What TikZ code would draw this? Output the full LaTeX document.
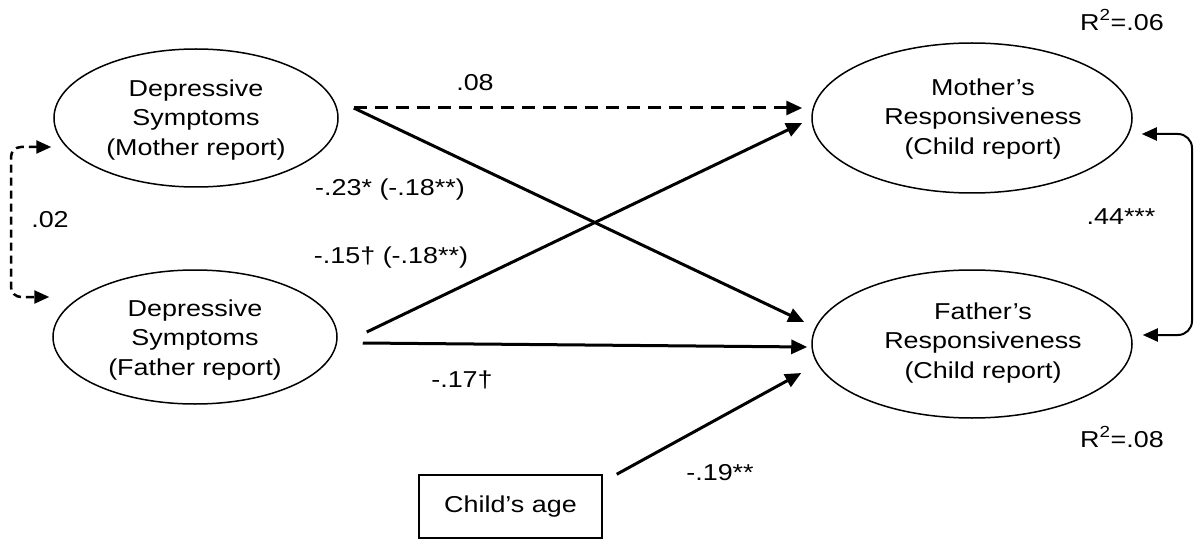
\documentclass[tikz,border=0pt]{standalone}
\usepackage{fontspec}
\setmainfont[FakeStretch=1.17]{Liberation Sans}
\usetikzlibrary{arrows.meta,shapes.geometric}
\begin{document}
\begin{tikzpicture}[x=1pt,y=-1pt,
  font=\fontsize{23}{29.5}\selectfont,
  latent/.style={draw, ellipse, line width=1.5pt, inner sep=0pt},
  observed/.style={draw, rectangle, line width=1.5pt, inner sep=0pt},
  txt/.style={align=center, inner sep=0pt},
  lbl/.style={inner sep=0pt},
  bigtip/.style={-{Triangle[length=16pt,width=14pt]}},
  arr/.style={line width=3pt, bigtip},
  darr/.style={line width=3pt, bigtip, dash pattern=on 13pt off 8pt},
  covleft/.style={line width=2.5pt, dash pattern=on 8pt off 5pt,
    {Triangle[length=15pt,width=13pt]}-{Triangle[length=15pt,width=13pt]}, rounded corners=10pt},
  covright/.style={line width=2pt,
    {Triangle[length=15pt,width=13pt]}-{Triangle[length=15pt,width=13pt]}, rounded corners=14pt}
]
\useasboundingbox (0,0) rectangle (1194,540);

% latent variables
\node[latent, minimum width=284, minimum height=138] (mds) at (196,118) {};
\node[txt] (mdst) at (196,120) {Depressive\\Symptoms\\(Mother report)};
\node[latent, minimum width=284, minimum height=134] (fds) at (195,337) {};
\node[txt] (fdst) at (195,340) {Depressive\\Symptoms\\(Father report)};
\node[latent, minimum width=320, minimum height=150] (mr) at (972,118) {};
\node[txt] (mrt) at (983,119) {Mother’s\\Responsiveness\\(Child report)};
\node[latent, minimum width=320, minimum height=148] (fr) at (972,344) {};
\node[txt] (frt) at (983,343) {Father’s\\Responsiveness\\(Child report)};

% observed covariate
\node[observed, minimum width=183, minimum height=63] (age) at (510.5,506.5) {Child’s age};

% paths
\draw[darr] ([shift={(15,-10)}]mds.east) -- ([shift={(-9,-10)}]mr.west);
\draw[arr] ([shift={(15,-10)}]mds.east) -- ([shift={(-7,-22)}]fr.west);
\draw[arr] ([shift={(29,-5)}]fds.east) -- ([shift={(-9,5)}]mr.west);
\draw[arr] ([shift={(25,6)}]fds.east) -- ([shift={(-4,3)}]fr.west);
\draw[arr] ([shift={(14,0)}]age.north east) -- ([shift={(-10,29)}]fr.west);

% covariances
\coordinate (lbend) at (11,222);
\draw[covleft] ([shift={(-2,29)}]mds.west) -| (lbend) |- ([shift={(-3,-40)}]fds.west);
\coordinate (rbend) at (1192,230);
\draw[covright] ([shift={(9,16)}]mr.east) -| (rbend) |- ([shift={(10,-9)}]fr.east);

% coefficients
\node[lbl] (l08) at (475,83) {.08};
\node[lbl] (l23) at (390,190) {-.23* (-.18**)};
\node[lbl] (l15) at (391,258) {-.15† (-.18**)};
\node[lbl] (l17) at (462,380) {-.17†};
\node[lbl] (l19) at (720,473) {-.19**};
\node[lbl] (l02) at (50,220) {.02};
\node[lbl] (l44) at (1121,217) {.44***};
\node[lbl] (r2m) at (1122,20) {R\textsuperscript{2}=.06};
\node[lbl] (r2f) at (1122,437) {R\textsuperscript{2}=.08};
\end{tikzpicture}
\end{document}
